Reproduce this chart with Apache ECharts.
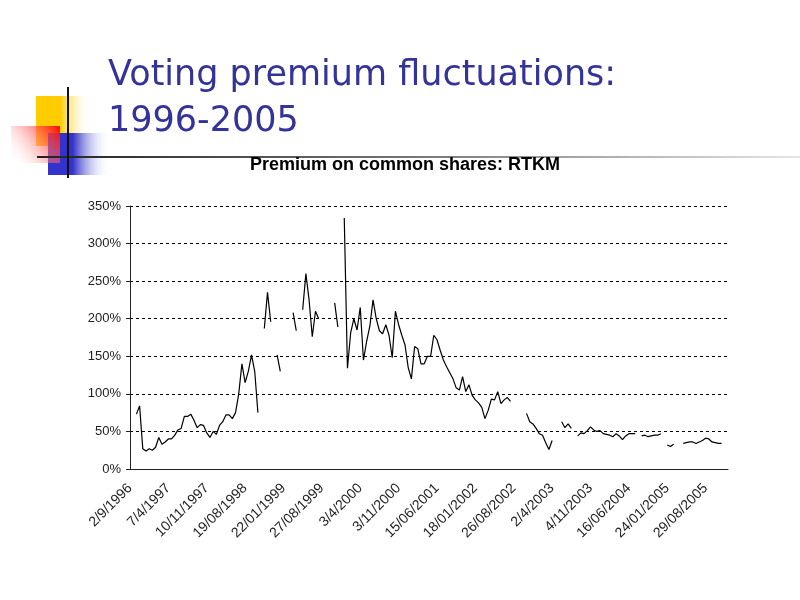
<!DOCTYPE html>
<html>
<head>
<meta charset="utf-8">
<script src="https://cdn.jsdelivr.net/npm/echarts@6/dist/echarts.min.js"></script>
<style>
html,body{margin:0;padding:0;background:#fff;}
#chart{width:800px;height:600px;}
</style>
</head>
<body>
<div id="chart"></div>
<script>
// Tick labels shown every 12 trading-day samples along the category axis
var tickLabels = ['2/9/1996','7/4/1997','10/11/1997','19/08/1998','22/01/1999','27/08/1999','3/4/2000','3/11/2000','15/06/2001','18/01/2002','26/08/2002','2/4/2003','4/11/2003','16/06/2004','24/01/2005','29/08/2005'];
var labelEvery = 12;

// Premium on common shares (%); null = no trade / gap
var premium = [
  null, null, 73, 84, 27, 24, 27, 25, 29, 42,
  33, 36, 40, 40, 45, 52, 54, 70, 70, 73,
  65, 55, 59, 58, 48, 42, 50, 46, 58, 63,
  72, 72, 67, 75, 100, 140, 115, 130, 152, 130,
  75, null, 187, 235, 196, null, 152, 130, null, null,
  null, 208, 184, null, 212, 260, 225, 176, 210, 200,
  null, null, null, null, 221, 189, null, 334, 134, 181,
  200, 185, 215, 145, 170, 190, 225, 200, 184, 180,
  192, 178, 148, 210, 192, 178, 165, 135, 120, 163,
  160, 140, 140, 150, 150, 178, 172, 158, 145, 136,
  128, 120, 108, 105, 123, 103, 112, 98, 92, 88,
  82, 67, 78, 93, 92, 103, 87, 92, 95, 90,
  null, null, null, null, 74, 63, 60, 54, 47, 45,
  35, 26, 38, null, null, 63, 55, 60, 54, null,
  44, 48, 47, 51, 56, 52, 50, 51, 47, 46,
  45, 43, 47, 44, 39, 44, 47, 47, 47, null,
  44, 45, 43, 44, 45, 45, 47, null, 32, 30,
  33, null, null, 34, 35, 36, 36, 34, 36, 38,
  41, 40, 36, 35, 34, 34, null, null
];

var yTicks = {min: 0, max: 350, step: 50};

var categories = premium.map(function (v, i) {
  return (i % labelEvery === 0 && tickLabels[i / labelEvery]) ? tickLabels[i / labelEvery] : '';
});

var chart = echarts.init(document.getElementById('chart'), null, {renderer: 'canvas'});

var option = {
  backgroundColor: '#ffffff',
  animation: false,
  title: [
    {
      text: 'Voting premium fluctuations:\n1996-2005',
      left: 108, top: 53, padding: 0,
      textStyle: {color: '#333399', fontSize: 35, lineHeight: 46, fontWeight: 'normal', fontFamily: 'DejaVu Sans'}
    },
    {
      text: 'Premium on common shares: RTKM',
      left: 250, top: 156, padding: 0,
      textStyle: {color: '#000', fontSize: 18, lineHeight: 18, fontWeight: 'bold', fontFamily: 'Liberation Sans'}
    }
  ],
  graphic: [
    {type: 'rect', z: -10, shape: {x: 36, y: 96, width: 54, height: 50},
      style: {fill: new echarts.graphic.LinearGradient(0, 0, 1, 0, [
        {offset: 0, color: '#ffcc00'}, {offset: 0.45, color: '#ffcc00'}, {offset: 1, color: 'rgba(255,255,255,0)'}])}},
    {type: 'rect', z: -9, shape: {x: 48, y: 133, width: 62, height: 42},
      style: {fill: new echarts.graphic.LinearGradient(0, 0, 1, 0, [
        {offset: 0, color: '#3333cc'}, {offset: 0.4, color: '#3333cc'}, {offset: 1, color: 'rgba(255,255,255,0)'}])}},
    {type: 'rect', z: -8, shape: {x: 11, y: 126, width: 49, height: 37},
      style: {fill: new echarts.graphic.LinearGradient(1, 0, 0, 1, [
        {offset: 0, color: '#ff0000'}, {offset: 1, color: 'rgba(255,255,255,0)'}])}},
    {type: 'rect', z: -7, shape: {x: 37, y: 156, width: 763, height: 2},
      style: {fill: new echarts.graphic.LinearGradient(0, 0, 1, 0, [
        {offset: 0, color: '#222222'}, {offset: 0.5, color: '#777777'}, {offset: 1, color: '#e6e6e6'}])}},
    {type: 'rect', z: -6, shape: {x: 67, y: 87, width: 2, height: 91},
      style: {fill: '#111111'}}
  ],
  grid: {left: 130, right: 72, top: 206, bottom: 131, containLabel: false},
  xAxis: {
    type: 'category',
    data: categories,
    boundaryGap: false,
    axisLine: {show: true, lineStyle: {color: '#222', width: 1}},
    axisTick: {show: false},
    axisLabel: {
      interval: labelEvery - 1,
      rotate: 45,
      margin: 17,
      color: '#222',
      fontSize: 14,
      fontFamily: 'Liberation Sans'
    },
    splitLine: {show: false}
  },
  yAxis: {
    type: 'value',
    min: yTicks.min, max: yTicks.max, interval: yTicks.step,
    axisLine: {show: true, lineStyle: {color: '#222', width: 1}},
    axisTick: {show: true, length: 4, lineStyle: {color: '#222'}},
    axisLabel: {formatter: '{value}%', margin: 9, color: '#222', fontSize: 13, fontFamily: 'Liberation Sans'},
    splitLine: {show: true, lineStyle: {color: '#000', type: [3, 3], width: 1}}
  },
  series: [{
    type: 'line',
    name: 'Premium',
    data: premium,
    connectNulls: false,
    showSymbol: false,
    symbol: 'none',
    lineStyle: {color: '#000', width: 1.2},
    silent: true
  }]
};
chart.setOption(option);
</script>
</body>
</html>
